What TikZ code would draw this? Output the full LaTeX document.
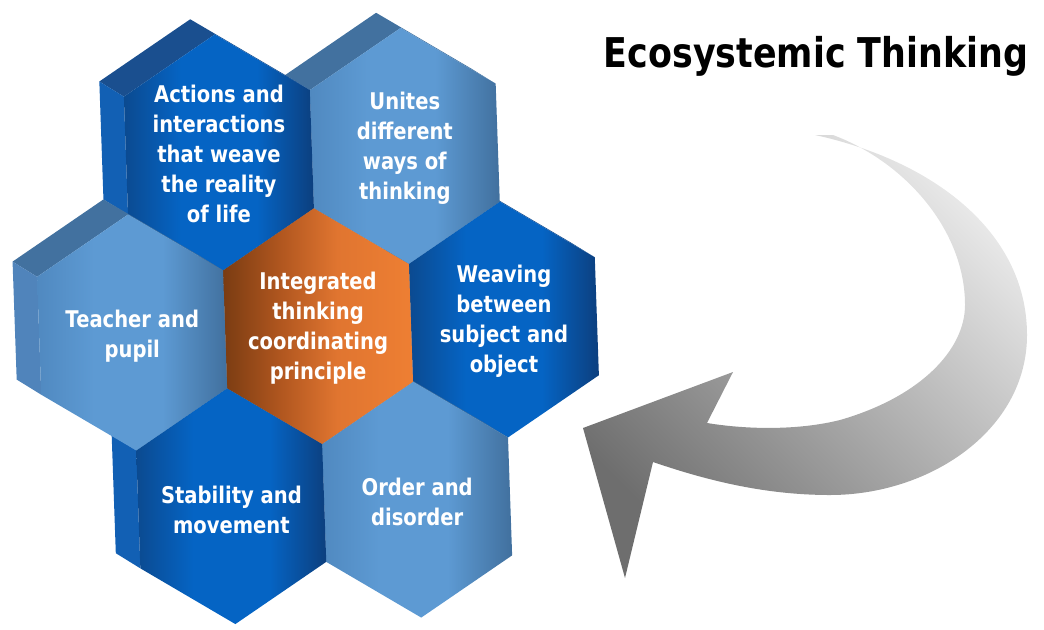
\documentclass[tikz,border=0pt]{standalone}
\usepackage{fontspec}
\setmainfont{DejaVu Sans}
\newfontfamily\hexfont{DejaVu Sans}[FakeStretch=0.85]
\usepackage{tikz}

\definecolor{darktop}{HTML}{1A4F8F}
\definecolor{darkleft}{HTML}{1260B4}
\definecolor{darkdeep}{HTML}{0B4A90}
\definecolor{darkbright}{HTML}{0564C4}
\definecolor{darkedge}{HTML}{0C3F7E}
\definecolor{lighttop}{HTML}{42719F}
\definecolor{lightleft}{HTML}{5084BB}
\definecolor{lightsoft}{HTML}{5089C0}
\definecolor{lightbright}{HTML}{5D9AD3}
\definecolor{lightshade}{HTML}{41709E}
\definecolor{orangedeep}{HTML}{7A3C12}
\definecolor{orangemid}{HTML}{B0561F}
\definecolor{orangewarm}{HTML}{E07530}
\definecolor{orangebright}{HTML}{EE7F33}
\definecolor{arrowdark}{HTML}{6E6E6E}
\definecolor{arrowlight}{HTML}{E8E8E8}

\pgfdeclarehorizontalshading{darkshade}{100bp}{color(0bp)=(darkdeep); color(25bp)=(darkdeep);
  color(40bp)=(darkbright); color(60bp)=(darkbright); color(75bp)=(darkedge); color(100bp)=(darkedge)}
\pgfdeclarehorizontalshading{lightshade}{100bp}{color(0bp)=(lightsoft); color(25bp)=(lightsoft);
  color(40bp)=(lightbright); color(58bp)=(lightbright); color(75bp)=(lightshade); color(100bp)=(lightshade)}
\pgfdeclarehorizontalshading{orangeshade}{100bp}{color(0bp)=(orangedeep); color(25bp)=(orangedeep);
  color(40bp)=(orangemid); color(55bp)=(orangewarm); color(75bp)=(orangebright); color(100bp)=(orangebright)}

\tikzset{
  darkface/.style={shade, shading=darkshade},
  lightface/.style={shade, shading=lightshade},
  orangeface/.style={shade, shading=orangeshade},
  hextext/.style={text=white, align=center, inner sep=0pt, font=\hexfont\bfseries\fontsize{17.25}{22.5}\selectfont},
  titletext/.style={text=black, inner sep=0pt, font=\hexfont\bfseries\fontsize{30.75}{36}\selectfont},
  arrowfill/.style={left color=arrowdark, right color=arrowlight, shading angle=135}
}

% hexagon prism: centre, top band, left band, front face
\newcommand{\hexprism}[4]{%
  \begin{scope}[shift={#1}]
    \fill[#2] (93,-59) -- (69,-75) -- (-24,-134) -- (-117,-75) -- (-93,-59) -- (0,-118) -- cycle;
    \fill[#3] (-117,-75) -- (-117,43) -- (-93,59) -- (-93,-59) -- cycle;
    \path[#4] (0,-118) -- (93,-59) -- (93,59) -- (0,118) -- (-93,59) -- (-93,-59) -- cycle;
  \end{scope}}

\begin{document}
\begin{tikzpicture}[x=0.75pt,y=0.75pt,yscale=-1,xscale=1]
\useasboundingbox (0,0) rectangle (1044,629);

%Shape: Curved Arrow
\shade[arrowfill] (815,135) .. controls (930,160) and (1027,230) .. (1027,335)
  .. controls (1027,430) and (930,495) .. (830,495)
  .. controls (760,495) and (700,478) .. (653,462)
  -- (625,578) -- (583,428) -- (733,372) -- (707,423)
  .. controls (750,430) and (800,430) .. (840,420)
  .. controls (920,397) and (965,350) .. (965,305)
  .. controls (965,230) and (905,162) .. (833,135) -- cycle;

\begin{scope}[shift={(318,326)}, rotate=-2]
%Shape: Hexagons, back to front
\hexprism{(186,0)}{darktop}{darkleft}{darkface}
\hexprism{(93,177)}{lighttop}{lightleft}{lightface}
\hexprism{(-93,177)}{darktop}{darkleft}{darkface}
\hexprism{(0,0)}{orangedeep}{orangedeep}{orangeface}
\hexprism{(93,-177)}{lighttop}{lightleft}{lightface}
\hexprism{(-93,-177)}{darktop}{darkleft}{darkface}
\hexprism{(-186,0)}{lighttop}{lightleft}{lightface}

% Text Node
\draw (-93,-175) node (actions) [hextext] {Actions and\\interactions\\that weave\\the reality\\of life};
% Text Node
\draw (93,-175) node (unites) [hextext] {Unites\\different\\ways of\\thinking};
% Text Node
\draw (-186,4) node (teacher) [hextext] {Teacher and\\pupil};
% Text Node
\draw (0,2) node (centre) [hextext] {Integrated\\thinking\\coordinating\\principle};
% Text Node
\draw (186,2) node (weaving) [hextext] {Weaving\\between\\subject and\\object};
% Text Node
\draw (-93,181) node (stability) [hextext] {Stability and\\movement};
% Text Node
\draw (93,179) node (order) [hextext] {Order and\\disorder};
\end{scope}

% Text Node
\draw (816,67) node (title) [titletext, anchor=base] {Ecosystemic Thinking};

\end{tikzpicture}
\end{document}
